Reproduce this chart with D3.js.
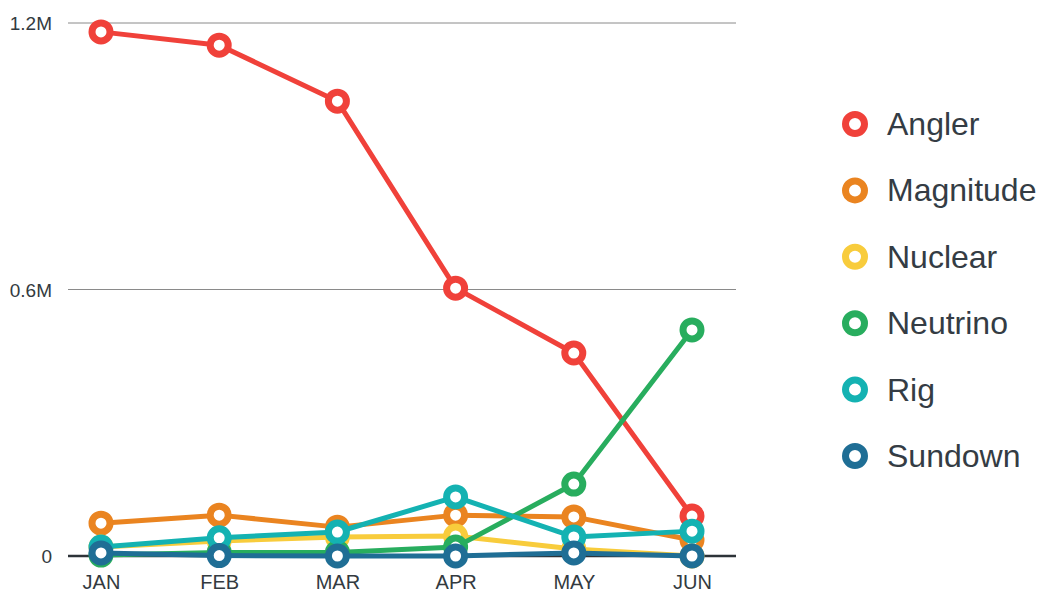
<!DOCTYPE html>
<html>
<head>
<meta charset="utf-8">
<script src="https://cdn.jsdelivr.net/npm/d3@7"></script>
<style>
  body { margin: 0; background: #fff; overflow: hidden; }
  text { font-family: "Helvetica Neue", "Liberation Sans", Arial, sans-serif; }
</style>
</head>
<body>
<script>
// data (values in millions)
var months = [ 'JAN', 'FEB', 'MAR', 'APR', 'MAY', 'JUN' ];
var seriesNames = [ 'Angler', 'Magnitude', 'Nuclear', 'Neutrino', 'Rig', 'Sundown' ];
var seriesColors = [ '#f0413a', '#ea8420', '#f8cc3c', '#28ad5e', '#14b2b2', '#1f6e95' ];
var angler    = [ 1.18, 1.15, 1.024, 0.603, 0.457, 0.090 ];
var magnitude = [ 0.074, 0.092, 0.065, 0.092, 0.088, 0.036 ];
var nuclear   = [ 0.020, 0.034, 0.043, 0.045, 0.016, 0.000 ];
var neutrino  = [ 0.002, 0.008, 0.008, 0.020, 0.162, 0.509 ];
var rig       = [ 0.020, 0.041, 0.054, 0.133, 0.043, 0.056 ];
var sundown   = [ 0.007, 0.001, 0.000, 0.000, 0.007, 0.000 ];
var yTicks = [ 0, 0.6, 1.2 ];
var yTickLabels = [ '0', '0.6M', '1.2M' ];

var seriesValues = [ angler, magnitude, nuclear, neutrino, rig, sundown ];

var svg = d3.select( 'body' )
    .append( 'svg' )
    .attr( 'width', 1041 )
    .attr( 'height', 592 )
    .style( 'display', 'block' );

var x = d3.scalePoint().domain( months ).range( [ 101, 692 ] );
var y = d3.scaleLinear().domain( [ 0, 1.2 ] ).range( [ 556, 23 ] );

//horizontal grid lines + y labels
var grid = svg.append( 'g' );
grid.selectAll( 'line' )
    .data( yTicks )
    .enter().append( 'line' )
    .attr( 'x1', 68 ).attr( 'x2', 736 )
    .attr( 'y1', function ( d ) { return y( d ); } )
    .attr( 'y2', function ( d ) { return y( d ); } )
    .attr( 'stroke', function ( d ) { return d === 0 ? '#2d3338' : '#8a8a8a'; } )
    .attr( 'stroke-width', function ( d ) { return d === 0 ? 2.5 : 1; } );

grid.selectAll( 'text' )
    .data( yTicks )
    .enter().append( 'text' )
    .attr( 'x', 52 )
    .attr( 'y', function ( d ) { return y( d ) + 7; } )
    .attr( 'text-anchor', 'end' )
    .attr( 'font-size', 19 )
    .attr( 'fill', '#333a40' )
    .text( function ( d, i ) { return yTickLabels[ i ]; } );

//x axis labels
svg.append( 'g' )
    .attr( 'transform', 'translate(0,589)' )
    .call( d3.axisBottom( x ).tickSize( 0 ).tickPadding( 0 ) )
    .call( function ( g ) { g.select( '.domain' ).remove(); } )
    .selectAll( 'text' )
    .attr( 'dy', 0 )
    .attr( 'font-size', 20 )
    .attr( 'fill', '#333a40' )
    .style( 'font-family', '"Helvetica Neue", "Liberation Sans", Arial, sans-serif' );

var line = d3.line()
    .x( function ( d, i ) { return x( months[ i ] ); } )
    .y( function ( d ) { return y( d ); } );

//lines first, then markers for each series in order
seriesValues.forEach( function ( vals, s ) {
    var g = svg.append( 'g' );
    g.append( 'path' )
        .datum( vals )
        .attr( 'd', line )
        .attr( 'fill', 'none' )
        .attr( 'stroke', seriesColors[ s ] )
        .attr( 'stroke-width', 5 )
        .attr( 'stroke-linejoin', 'round' );
    g.selectAll( 'circle' )
        .data( vals )
        .enter().append( 'circle' )
        .attr( 'cx', function ( d, i ) { return x( months[ i ] ); } )
        .attr( 'cy', function ( d ) { return y( d ); } )
        .attr( 'r', 9 )
        .attr( 'fill', '#fff' )
        .attr( 'stroke', seriesColors[ s ] )
        .attr( 'stroke-width', 7 );
} );

//legend
var legend = svg.append( 'g' );
var item = legend.selectAll( 'g' )
    .data( seriesNames )
    .enter().append( 'g' )
    .attr( 'transform', function ( d, i ) { return 'translate(855,' + ( 124 + i * 66.4 ) + ')'; } );
item.append( 'circle' )
    .attr( 'r', 9.5 )
    .attr( 'fill', '#fff' )
    .attr( 'stroke', function ( d, i ) { return seriesColors[ i ]; } )
    .attr( 'stroke-width', 7 );
item.append( 'text' )
    .attr( 'x', 32 )
    .attr( 'y', 11 )
    .attr( 'font-size', 32 )
    .attr( 'fill', '#343c44' )
    .text( function ( d ) { return d; } );
</script>
</body>
</html>
